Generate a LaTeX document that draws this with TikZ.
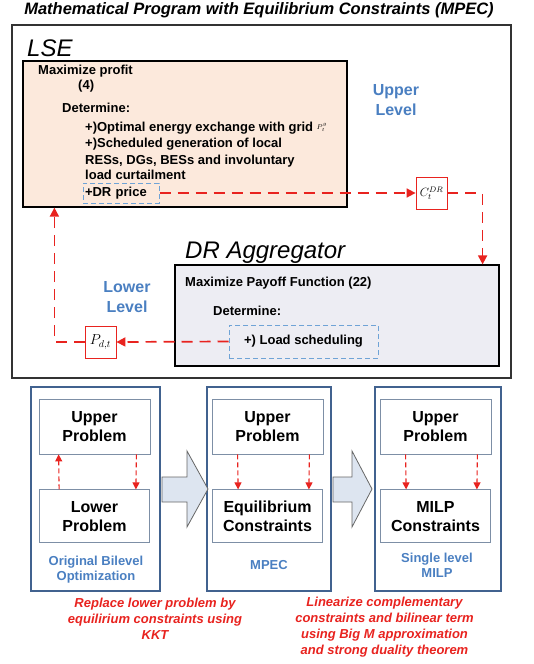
\documentclass[tikz,border=0pt]{standalone}
\usepackage{fontspec}
\setmainfont{Liberation Sans}
\usepackage{tikz}
\usetikzlibrary{positioning,arrows.meta}

\definecolor{peach}{HTML}{FCE9DC}
\definecolor{lavender}{HTML}{EDEDF3}
\definecolor{lvlblue}{HTML}{4A7FC1}
\definecolor{dashblue}{HTML}{6FA3D6}
\definecolor{arrred}{HTML}{E8231F}
\definecolor{frameblue}{HTML}{41628F}
\definecolor{innergray}{HTML}{7D8FA6}
\definecolor{blockfill}{HTML}{DDE5F0}

\begin{document}
\begin{tikzpicture}[x=1pt, y=-1pt,
  every node/.style={inner sep=0pt},
  txt/.style={font=\fontsize{13}{16}\selectfont\bfseries, anchor=base west},
  mainbox/.style={draw=black, line width=1.2pt},
  redbox/.style={draw=arrred, line width=0.8pt, fill=white, minimum width=31pt, minimum height=32pt},
  bluedash/.style={draw=dashblue, line width=1pt, dash pattern=on 5pt off 3pt},
  redarrow/.style={draw=arrred, line width=1.7pt, dash pattern=on 11pt off 7pt, -{Triangle[length=9pt,width=9pt]}},
  smallarrow/.style={draw=arrred, line width=1.1pt, dash pattern=on 5pt off 3pt, -{Triangle[length=7pt,width=7pt]}},
  outerbox/.style={draw=frameblue, line width=1.3pt, minimum width=#1, minimum height=204pt},
  innerbox/.style={draw=innergray, line width=0.8pt, fill=white, minimum height=55pt, align=center,
    font=\fontsize{16}{19}\selectfont\bfseries},
  levellabel/.style={text=lvlblue, align=center, font=\fontsize{16}{20}\selectfont\bfseries},
  steplabel/.style={text=lvlblue, align=center, font=\fontsize{13}{15}\selectfont\bfseries},
  redcap/.style={text=arrred, align=center, font=\fontsize{13}{16}\selectfont\bfseries\itshape},
  blockarrow/.style={draw=gray!80!black, line width=0.8pt, fill=blockfill}]

\useasboundingbox (0,0) rectangle (534,664);

% Title and frame
\node[font=\fontsize{16.5}{18}\selectfont\bfseries\itshape] (title) at (259,10) {Mathematical Program with Equilibrium Constraints (MPEC)};
\draw[draw=black!80, line width=1.5pt] (12,25) rectangle (511,378);

% LSE
\node[font=\fontsize{24}{28}\selectfont\itshape, anchor=base west] (lsename) at (27,56) {LSE};
\node[mainbox, fill=peach, minimum width=324pt, minimum height=146pt] (lsebox) at (185,134) {};
\node[txt] (maxprofit) at (38,74) {Maximize profit};
\node[txt] (eqfour) at (78,89) {(4)};
\node[txt] (detlse) at (62,112) {Determine:};
\node[txt] (exchange) at (85,131) {+)Optimal energy exchange with grid \raisebox{2pt}{\normalfont\scriptsize$P_t^g$}};
\node[txt] (schedule) at (85,147) {+)Scheduled generation of local};
\node[txt] (units) at (85,164) {RESs, DGs, BESs and involuntary};
\node[txt] (curtail) at (85,179.5) {load curtailment};
\node[bluedash, font=\fontsize{13}{16}\selectfont\bfseries, minimum width=76pt, minimum height=20pt, text width=72pt, align=left] (drprice) at (121,193) {+DR price};
\node[levellabel] (upper) at (396,100) {Upper\\Level};
\node[redbox] (cdr) at (431.5,193) {\fontsize{12}{14}\selectfont$C_t^{DR}$};

% DR Aggregator
\node[font=\fontsize{24}{28}\selectfont\itshape, anchor=base west] (aggname) at (185,258) {DR Aggregator};
\node[mainbox, fill=lavender, minimum width=324pt, minimum height=101pt] (aggbox) at (337,315.5) {};
\node[txt] (payoff) at (185,286) {Maximize Payoff Function (22)};
\node[txt] (detagg) at (213,315) {Determine:};
\node[bluedash, font=\fontsize{13}{16}\selectfont\bfseries, minimum width=149pt, minimum height=33pt] (loadbox) at (303.5,341.5) {+) Load scheduling};
\node[levellabel] (lower) at (127,297) {Lower\\Level};
\node[redbox] (pdt) at (100.5,342) {\fontsize{14}{16}\selectfont$P_{d,t}$};

% Connectors between levels
\draw[redarrow] (drprice.east) -- (cdr.west);
\draw[redarrow] (cdr.east) -| ([xshift=-17pt]aggbox.north east);
\draw[redarrow] (loadbox.west) -- (pdt.east);
\draw[redarrow] (pdt.west) -| ([xshift=32pt]lsebox.south west);

% Solution steps
\node[outerbox=129pt] (stepone) at (95.5,489) {};
\node[outerbox=124pt] (steptwo) at (269,489) {};
\node[outerbox=126pt] (stepthree) at (438,489) {};

\node[innerbox, minimum width=111pt] (upone) at (94.5,426.5) {Upper\\Problem};
\node[innerbox, minimum width=110pt, minimum height=53pt, below=35pt of upone] (loone) {Lower\\Problem};
\node[innerbox, minimum width=111pt] (uptwo) at (267.5,426.5) {Upper\\Problem};
\node[innerbox, minimum width=110pt, minimum height=53pt, below=35pt of uptwo] (lotwo) {Equilibrium\\Constraints};
\node[innerbox, minimum width=111pt] (upthree) at (435.5,426.5) {Upper\\Problem};
\node[innerbox, minimum width=110pt, minimum height=53pt, below=35pt of upthree] (lothree) {MILP\\Constraints};

\draw[smallarrow] ([xshift=20pt]loone.north west) -- ([xshift=20pt]upone.south west);
\draw[smallarrow] ([xshift=-14pt]upone.south east) -- ([xshift=-14pt]loone.north east);
\draw[smallarrow] ([xshift=26pt]uptwo.south west) -- ([xshift=26pt]lotwo.north west);
\draw[smallarrow] ([xshift=-14pt]uptwo.south east) -- ([xshift=-14pt]lotwo.north east);
\draw[smallarrow] ([xshift=26pt]upthree.south west) -- ([xshift=26pt]lothree.north west);
\draw[smallarrow] ([xshift=-14pt]upthree.south east) -- ([xshift=-14pt]lothree.north east);

\node[steplabel] (lblone) at (96,569.5) {Original Bilevel\\Optimization};
\node[steplabel] (lbltwo) at (269,565) {MPEC};
\node[steplabel] (lblthree) at (437,565) {Single level\\MILP};

% Block arrows
\draw[blockarrow] (162,477) -- (187,477) -- (187,451) -- (208,489) -- (187,527) -- (187,502) -- (162,502) -- cycle;
\draw[blockarrow] (333,477) -- (352,477) -- (352,451) -- (372,489) -- (352,527) -- (352,502) -- (333,502) -- cycle;

% Captions
\node[redcap] (capone) at (155,619) {Replace lower problem by\\equilirium constraints using\\KKT};
\node[redcap] (captwo) at (384.5,627) {Linearize complementary\\constraints and bilinear term\\using Big M approximation\\and strong duality theorem};

\end{tikzpicture}
\end{document}
